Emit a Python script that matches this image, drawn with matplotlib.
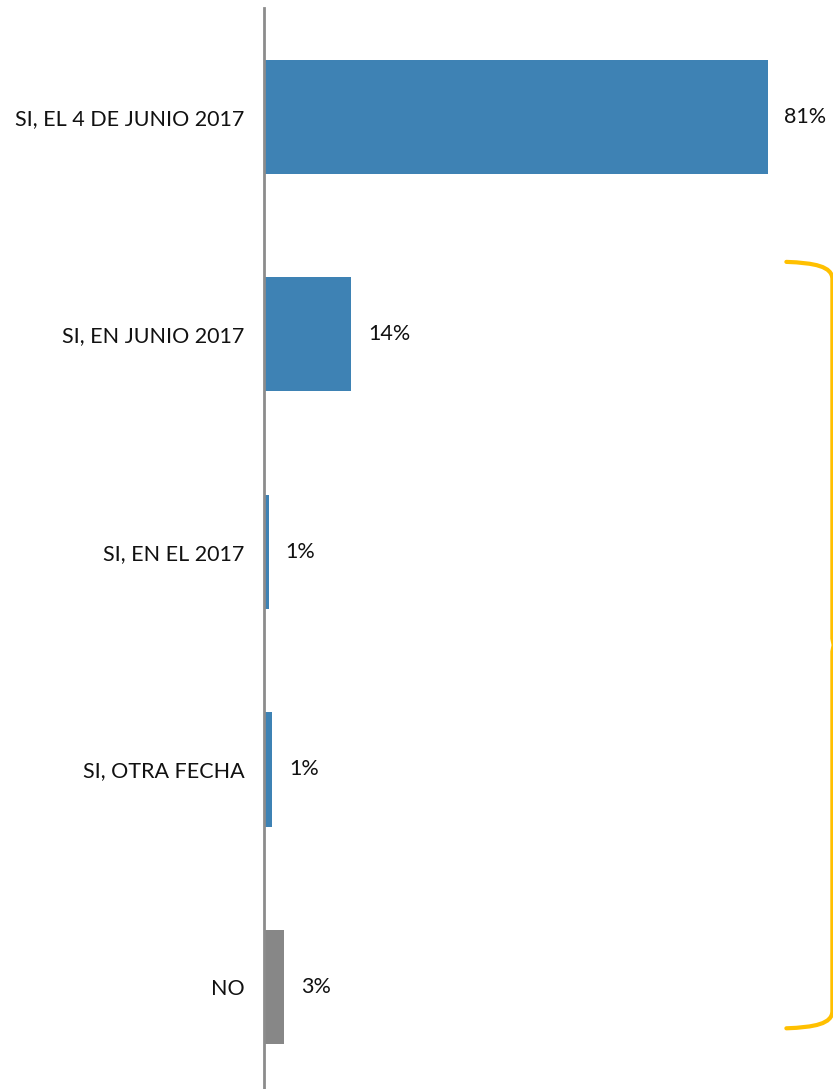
import numpy as np
import matplotlib
matplotlib.use('Agg')
import matplotlib.pyplot as plt
from matplotlib.path import Path
from matplotlib.patches import PathPatch

# Datos
categorias = ["SI, EL 4 DE JUNIO 2017", "SI, EN JUNIO 2017", "SI, EN EL 2017",
              "SI, OTRA FECHA", "NO"]
valores = [81, 14, 0.8, 1.3, 3.2]
etiquetas = ["81%", "14%", "1%", "1%", "3%"]
colores = ["#3e82b4", "#3e82b4", "#3e82b4", "#3e82b4", "#878787"]

plt.rcParams['font.family'] = ['Lato', 'DejaVu Sans']

fig = plt.figure(figsize=(8.33, 10.89), dpi=100)
ax = fig.add_axes([264 / 833, 0, 569 / 833, 1 - 8 / 1089])

y = np.arange(len(categorias))
ax.barh(y, valores, height=0.525, color=colores)
ax.set_ylim(4.469, -0.5)
ax.set_xlim(0, 91.5)

for yi, v, t in zip(y, valores, etiquetas):
    ax.text(v + 2.7, yi, t, va='center', ha='left', fontsize=15.5, color='#111111')

ax.set_yticks(y)
ax.set_yticklabels(categorias, fontsize=15.5, color='#111111')
ax.tick_params(axis='y', length=0, pad=14)
ax.set_xticks([])
for s in ['top', 'right', 'bottom']:
    ax.spines[s].set_visible(False)
ax.spines['left'].set_color('#8c8c8c')
ax.spines['left'].set_linewidth(2)

# Llave amarilla
y0, y1 = 0.667, 4.19
ym = (y0 + y1) / 2
verts = [(84.0, y0), (88.5, y0 + 0.005), (91.4, y0 + 0.02), (91.4, y0 + 0.08),
         (91.4, ym - 0.03), (91.6, ym),
         (91.4, ym + 0.03), (91.4, y1 - 0.08),
         (91.4, y1 - 0.02), (88.5, y1 - 0.005), (84.0, y1)]
codes = [Path.MOVETO, Path.CURVE4, Path.CURVE4, Path.CURVE4,
         Path.LINETO, Path.LINETO,
         Path.LINETO, Path.LINETO,
         Path.CURVE4, Path.CURVE4, Path.CURVE4]
ax.add_patch(PathPatch(Path(verts, codes), facecolor='none', edgecolor='#ffc000',
                       linewidth=3, clip_on=False, capstyle='round'))

fig.savefig("out.png", dpi=100)
